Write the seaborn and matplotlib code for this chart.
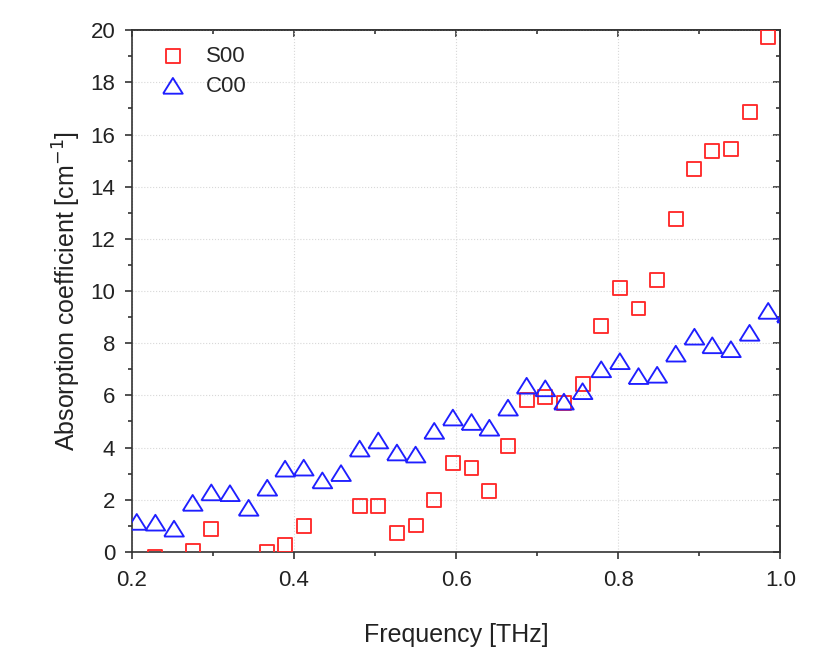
import numpy as np
import pandas as pd
import matplotlib
matplotlib.use("Agg")
import matplotlib.pyplot as plt
from matplotlib.ticker import MultipleLocator
import seaborn as sns

# frequency points of the spectrum [THz]
freq = [0.206, 0.229, 0.252, 0.275, 0.298, 0.321, 0.344, 0.367, 0.389, 0.412,
        0.435, 0.458, 0.481, 0.504, 0.527, 0.550, 0.573, 0.596, 0.619, 0.641,
        0.664, 0.687, 0.710, 0.733, 0.756, 0.779, 0.802, 0.825, 0.848, 0.871,
        0.894, 0.916, 0.939, 0.962, 0.985, 1.008]

# absorption coefficient [cm^-1], NaN where the point is off the plot
s00 = [np.nan, -0.20, np.nan, 0.02, 0.87, np.nan, np.nan, -0.02, 0.27, 0.98,
       np.nan, np.nan, 1.75, 1.75, 0.72, 1.01, 2.00, 3.40, 3.21, 2.33,
       4.05, 5.81, 5.94, 5.71, 6.44, 8.65, 10.11, 9.33, 10.44, 12.77,
       14.67, 15.37, 15.44, 16.88, 19.73, np.nan]

c00 = [1.15, 1.12, 0.89, 1.88, 2.28, 2.25, 1.69, 2.46, 3.19, 3.23,
       2.74, 3.02, 3.96, 4.27, 3.81, 3.73, 4.64, 5.15, 4.98, 4.76,
       5.53, 6.37, 6.27, 5.76, 6.16, 7.00, 7.31, 6.74, 6.79, 7.60,
       8.25, 7.92, 7.77, 8.40, 9.24, 9.10]

df = pd.DataFrame({"freq": freq, "S00": s00, "C00": c00})

sns.set_style("ticks")
plt.rcParams["font.family"] = ["Liberation Sans", "DejaVu Sans"]
plt.rcParams["axes.linewidth"] = 1.2
plt.rcParams["axes.edgecolor"] = "#333333"

fig = plt.figure(figsize=(8.4, 6.57), dpi=100)
ax = fig.add_axes([0.157, 0.160, 0.772, 0.794])

tri = np.array([[-1.0, -0.8], [1.0, -0.8], [0.0, 0.8], [-1.0, -0.8]])

sns.scatterplot(data=df, x="freq", y="S00", marker="s", s=100, facecolors="none",
                edgecolor="#ff2a2a", linewidths=1.35, label="S00", ax=ax, zorder=3)
sns.scatterplot(data=df, x="freq", y="C00", marker=tri, s=200, facecolors="none",
                edgecolor="#1f1fff", linewidths=1.35, label="C00", ax=ax, zorder=3)

ax.set_xlim(0.2, 1.0)
ax.set_ylim(0, 20)
ax.xaxis.set_major_locator(MultipleLocator(0.2))
ax.xaxis.set_minor_locator(MultipleLocator(0.1))
ax.yaxis.set_major_locator(MultipleLocator(2))
ax.yaxis.set_minor_locator(MultipleLocator(1))
ax.xaxis.set_major_formatter(lambda v, p: f"{v:.1f}")

ax.grid(True, which="major", linestyle=":", color="#d8d8d8", linewidth=0.8)
ax.tick_params(which="major", direction="out", length=5, width=1.2, labelsize=16,
               colors="#333333", labelcolor="#222222")
ax.tick_params(axis="x", which="major", pad=8)
ax.tick_params(axis="y", which="major", pad=7)
ax.tick_params(which="minor", direction="out", length=3, width=1.2, colors="#333333")

# mirrored inward ticks on top and right
top = ax.secondary_xaxis("top")
top.xaxis.set_major_locator(MultipleLocator(0.2))
top.xaxis.set_minor_locator(MultipleLocator(0.1))
top.tick_params(which="major", direction="in", length=5, width=1.2, labeltop=False, colors="#333333")
top.tick_params(which="minor", direction="in", length=3, width=1.2, colors="#333333")
right = ax.secondary_yaxis("right")
right.yaxis.set_major_locator(MultipleLocator(2))
right.yaxis.set_minor_locator(MultipleLocator(1))
right.tick_params(which="major", direction="in", length=5, width=1.2, labelright=False, colors="#333333")
right.tick_params(which="minor", direction="in", length=3, width=1.2, colors="#333333")

ax.set_xlabel("Frequency [THz]", fontsize=18, color="#222222", labelpad=23)
ax.set_ylabel("Absorption coefficient [cm$^{-1}$]", fontsize=18, color="#222222", labelpad=5)

leg = ax.legend(loc="upper left", frameon=False, fontsize=16, handletextpad=0.5,
                borderaxespad=0.3, labelspacing=0.4, bbox_to_anchor=(0.005, 1.0))

fig.savefig("out.png", dpi=100)
